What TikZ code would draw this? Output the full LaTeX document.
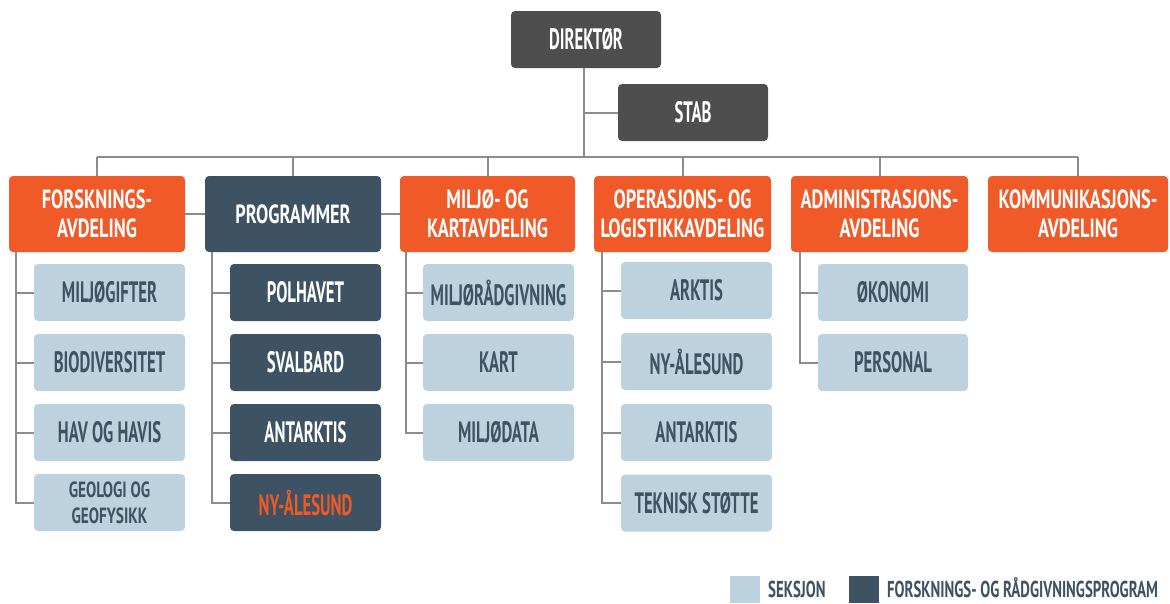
\documentclass[tikz,border=0pt]{standalone}
\usepackage{fontspec}
\newfontfamily\bbA[FakeStretch=0.566]{PT Sans}
\newfontfamily\bbB[FakeStretch=0.695]{PT Sans}
\newfontfamily\bbC[FakeStretch=0.645]{PT Sans}
\definecolor{corange}{HTML}{F05A28}
\definecolor{cdark}{HTML}{3D5262}
\definecolor{clight}{HTML}{BCD3DF}
\definecolor{cgray}{HTML}{4E4E4E}
\definecolor{cline}{HTML}{8C8C8C}
\begin{document}
\begin{tikzpicture}[x=1pt,y=-1pt,
  box/.style={rounded corners=4pt, inner sep=0pt, align=center},
  bigtxt/.style={font=\bbA\bfseries\fontsize{29.5}{31}\selectfont},
  depttxt/.style={font=\bbB\bfseries\fontsize{26.3}{29}\selectfont},
  topbox/.style={box, bigtxt, fill=cgray, text=white, minimum width=150pt, minimum height=57pt},
  dept/.style={box, depttxt, fill=corange, text=white, minimum height=76pt},
  sub/.style={box, bigtxt, fill=clight, text=cdark, minimum width=151pt, minimum height=57pt},
  psub/.style={box, bigtxt, fill=cdark, text=white, minimum width=151pt, minimum height=57pt},
  conn/.style={draw=cline, line width=2pt},
  legtxt/.style={font=\bbC\bfseries\fontsize{23}{25}\selectfont, text=cdark, inner sep=0pt, anchor=base west}
]
\useasboundingbox (0,0) rectangle (1170,603);
% top
\node[topbox] (dir) at (586,39.5) {DIREKTØR};
\node[topbox] (stab) at (693,112.5) {STAB};
% departments
\node[dept, minimum width=176pt] (fa) at (97,214) {FORSKNINGS-\\AVDELING};
\node[dept, fill=cdark, minimum width=176pt] (prog) at (293,214) {PROGRAMMER};
\node[dept, minimum width=175pt] (mk) at (487.5,214) {MILJØ- OG\\KARTAVDELING};
\node[dept, minimum width=177pt] (ol) at (682.5,214) {OPERASJONS- OG\\LOGISTIKKAVDELING};
\node[dept, minimum width=177pt] (adm) at (879.5,214) {ADMINISTRASJONS-\\AVDELING};
\node[dept, minimum width=180pt] (kom) at (1078,214) {KOMMUNIKASJONS-\\AVDELING};
% column 1
\node[sub] (a1) at (109.5,292.5) {MILJØGIFTER};
\node[sub] (a2) at (109.5,362.5) {BIODIVERSITET};
\node[sub] (a3) at (109.5,432.5) {HAV OG HAVIS};
\node[sub, font=\bbB\bfseries\fontsize{22}{26}\selectfont] (a4) at (109.5,502.5) {GEOLOGI OG\\GEOFYSIKK};
% column 2
\node[psub] (b1) at (305.5,292.5) {POLHAVET};
\node[psub] (b2) at (305.5,362.5) {SVALBARD};
\node[psub] (b3) at (305.5,432.5) {ANTARKTIS};
\node[psub, text=corange] (b4) at (305.5,502.5) {NY-ÅLESUND};
% column 3
\node[sub] (c1) at (498.5,292.5) {MILJØRÅDGIVNING};
\node[sub] (c2) at (498.5,362.5) {KART};
\node[sub] (c3) at (498.5,432.5) {MILJØDATA};
% column 4
\node[sub] (d1) at (696.5,290.5) {ARKTIS};
\node[sub] (d2) at (696.5,361.5) {NY-ÅLESUND};
\node[sub] (d3) at (696.5,432.5) {ANTARKTIS};
\node[sub] (d4) at (696.5,503) {TEKNISK STØTTE};
% column 5
\node[sub, minimum width=150pt] (e1) at (893,292.5) {ØKONOMI};
\node[sub, minimum width=150pt] (e2) at (893,362.5) {PERSONAL};
% connectors top
\coordinate (dv) at (584,68);
\coordinate (bus) at (584,157);
\draw[conn] (dv) -- (bus);
\draw[conn] (dv |- stab.west) -- (stab.west);
\draw[conn] (bus -| fa.north) -- (bus -| kom.north);
\foreach \n in {fa,prog,mk,ol,adm,kom}{
  \draw[conn] (bus -| \n.north) -- (\n.north);
}
\draw[conn] (fa.east) -- (prog.west);
\draw[conn] (prog.east) -- (mk.west);
% column connectors
\coordinate (v1) at (16,252);
\coordinate (v2) at (212,252);
\coordinate (v3) at (406,252);
\coordinate (v4) at (602,252);
\coordinate (v5) at (800,252);
\draw[conn] (v1) |- (a4.west);
\foreach \n in {a1,a2,a3}{\draw[conn] (v1 |- \n.west) -- (\n.west);}
\draw[conn] (v2) |- (b4.west);
\foreach \n in {b1,b2,b3}{\draw[conn] (v2 |- \n.west) -- (\n.west);}
\draw[conn] (v3) |- (c3.west);
\foreach \n in {c1,c2}{\draw[conn] (v3 |- \n.west) -- (\n.west);}
\draw[conn] (v4) |- (d4.west);
\foreach \n in {d1,d2,d3}{\draw[conn] (v4 |- \n.west) -- (\n.west);}
\draw[conn] (v5) |- (e2.west);
\draw[conn] (v5 |- e1.west) -- (e1.west);
% legend
\node[fill=clight, minimum width=30pt, minimum height=27pt, inner sep=0pt] (l1) at (745,589.5) {};
\node[legtxt] (l1t) at (768,597) {SEKSJON};
\node[fill=cdark, minimum width=30pt, minimum height=27pt, inner sep=0pt] (l2) at (864,589.5) {};
\node[legtxt] (l2t) at (887,597) {FORSKNINGS- OG RÅDGIVNINGSPROGRAM};
\end{tikzpicture}
\end{document}
